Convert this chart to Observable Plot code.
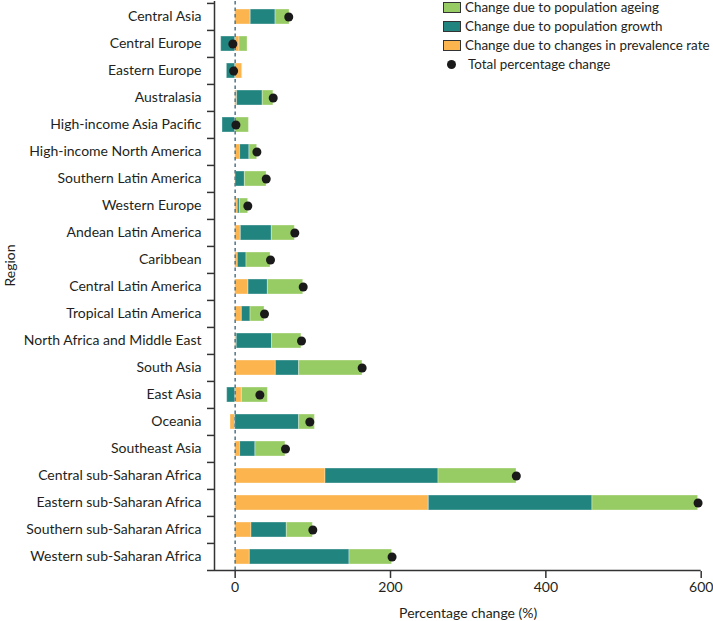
<!DOCTYPE html>
<html>
<head>
<meta charset="utf-8">
<script src="https://cdn.jsdelivr.net/npm/d3@7"></script>
<script src="https://cdn.jsdelivr.net/npm/@observablehq/plot@0.6"></script>
<style>
  html, body { margin: 0; padding: 0; background: #fff; }
  #wrap { position: relative; width: 713px; height: 621px; font-family: Lato, "Open Sans", sans-serif; color: #231f20; }
  #legend { position: absolute; left: 443px; top: -2px; font-size: 13.4px; line-height: 19px; }
  .row { display: flex; align-items: center; height: 19px; white-space: nowrap; }
  .sw { width: 16px; height: 9px; border: 1.5px solid #333; margin-right: 4px; box-sizing: content-box; }
  .dot { width: 9px; height: 9px; border-radius: 50%; background: #1a1a1a; margin: 0 12px 0 4px; }
</style>
</head>
<body>
<div id="wrap"></div>
<script>
const regions = ["Central Asia","Central Europe","Eastern Europe","Australasia","High-income Asia Pacific","High-income North America","Southern Latin America","Western Europe","Andean Latin America","Caribbean","Central Latin America","Tropical Latin America","North Africa and Middle East","South Asia","East Asia","Oceania","Southeast Asia","Central sub-Saharan Africa","Eastern sub-Saharan Africa","Southern sub-Saharan Africa","Western sub-Saharan Africa"];
const prevalence = [20, 5.6, 9, 2.5, 0.5, 6.4, 0.5, 3.4, 7.3, 3.4, 17.2, 8.6, 2, 52.4, 8.6, -6, 6.4, 116.3, 249.3, 21, 18.9];
const growth =     [32, -18, -10.7, 33, -16.3, 12, 12, 2.6, 39.9, 11.2, 24.9, 11.2, 45.5, 30, -10.3, 82.4, 19.7, 145.5, 210.7, 45.5, 128.3];
const ageing =     [18, 10.3, 0.5, 13.7, 17.2, 9.9, 27.9, 10.7, 29.6, 30.9, 45.5, 18, 37.8, 81.5, 33.5, 20.2, 38.6, 100.4, 136, 33.5, 54.8];
const total =      [69, -3, -2, 49, 1, 28, 40, 16.3, 76.8, 45.5, 87.6, 37.8, 85.4, 163.5, 31.8, 96.1, 64.8, 362, 596, 100, 202];
const components = ["Change due to changes in prevalence rate", "Change due to population growth", "Change due to population ageing"];
const colors = ["#fcb54e", "#22847f", "#97cb63"];
const xTicks = [0, 200, 400, 600];
const legendOrder = [2, 1, 0];

const series = [prevalence, growth, ageing];
const long = [];
series.forEach((vals, c) => regions.forEach((r, i) => long.push({region: r, component: components[c], value: vals[i]})));
const totals = regions.map((r, i) => ({region: r, total: total[i]}));

const W = 713, H = 621, mL = 214, mR = 12.3, mT = 1, mB = 50;
const xMin = -26.6, xMax = 600;
const k = (W - mL - mR) / (xMax - xMin);
const step = (H - mT - mB) / regions.length;
const tickLen = 7 / k;

const chart = Plot.plot({
  width: W, height: H,
  marginLeft: mL, marginRight: mR, marginTop: mT, marginBottom: mB,
  style: {fontFamily: "Lato, 'Open Sans', sans-serif", fontSize: "14px", color: "#231f20", background: "transparent"},
  x: {domain: [xMin, xMax]},
  y: {domain: regions, paddingInner: 0.45, paddingOuter: 0.225},
  color: {domain: components, range: colors},
  marks: [
    Plot.barX(long, Plot.stackX({x: "value", y: "region", fill: "component", stroke: "#ffffff", strokeOpacity: 0.35, strokeWidth: 1})),
    Plot.ruleX([0], {stroke: "#5c7d8c", strokeWidth: 1.6, strokeDasharray: "3.5,3"}),
    Plot.dot(totals, {x: "total", y: "region", r: 4.5, fill: "#1a1a1a"}),
    Plot.ruleX([xMin], {stroke: "#333", strokeWidth: 1.5}),
    Plot.ruleY(regions, {y: d => d, x1: xMin - tickLen, x2: xMin, dy: -step / 2, stroke: "#333", strokeWidth: 1.5}),
    Plot.ruleY([regions[regions.length - 1]], {y: d => d, x1: xMin - tickLen, x2: xMax, dy: step / 2, stroke: "#333", strokeWidth: 1.5}),
    Plot.axisY({tickSize: 0, tickPadding: 13, label: null, fontSize: 14}),
    Plot.axisX({ticks: xTicks, tickSize: 7, tickPadding: 4, label: null, fontSize: 14, stroke: "#333", strokeWidth: 1.5}),
    Plot.text(["Percentage change (%)"], {frameAnchor: "bottom", x: 300, dy: 42, lineAnchor: "middle", fontSize: 14}),
    Plot.text(["Region"], {frameAnchor: "left", dx: -204, rotate: -90, fontSize: 14})
  ]
});

const wrap = document.getElementById("wrap");
wrap.appendChild(chart);
const legend = document.createElement("div");
legend.id = "legend";
legendOrder.forEach(c => {
  const row = document.createElement("div");
  row.className = "row";
  row.innerHTML = `<span class="sw" style="background:${colors[c]}"></span><span>${components[c]}</span>`;
  legend.appendChild(row);
});
const drow = document.createElement("div");
drow.className = "row";
drow.innerHTML = `<span class="dot"></span><span>Total percentage change</span>`;
legend.appendChild(drow);
wrap.appendChild(legend);
</script>
</body>
</html>
